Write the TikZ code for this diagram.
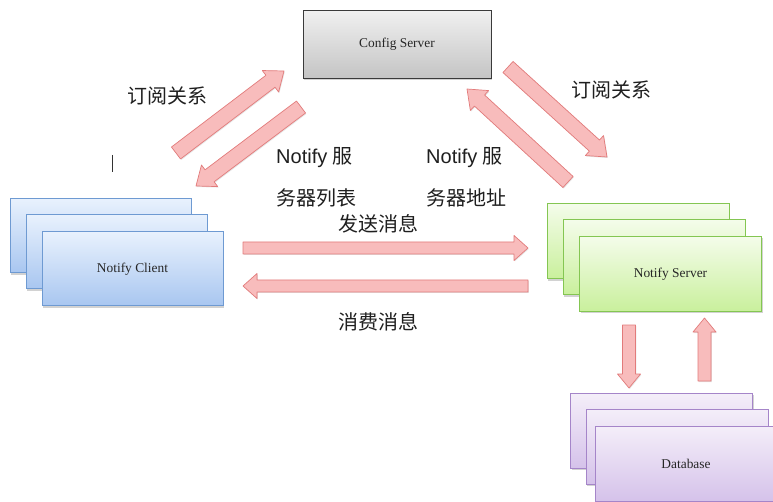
\documentclass[tikz,border=0pt]{standalone}
\usepackage{fontspec}
\setmainfont{Liberation Serif}
\newfontfamily\cjk{Noto Sans CJK SC}
\newfontfamily\hel{Liberation Sans}
\usetikzlibrary{calc,shadows}
\definecolor{arrowfill}{HTML}{F8BCBC}
\definecolor{arrowdraw}{HTML}{E27B7B}
\definecolor{cfgtop}{HTML}{F0F0F0}
\definecolor{cfgbot}{HTML}{C4C4C4}
\definecolor{cfgdraw}{HTML}{3A3A3A}
\definecolor{clitop}{HTML}{E8F1FD}
\definecolor{clibot}{HTML}{A8C6F0}
\definecolor{clidraw}{HTML}{6E9AD2}
\definecolor{srvtop}{HTML}{F4FCEA}
\definecolor{srvbot}{HTML}{C9F09C}
\definecolor{srvdraw}{HTML}{84C652}
\definecolor{dbtop}{HTML}{F4EEF9}
\definecolor{dbbot}{HTML}{D5C2EA}
\definecolor{dbdraw}{HTML}{A585C9}
\tikzset{
  boxbase/.style={rectangle, line width=1pt, inner sep=0pt,
    font=\fontsize{13.4}{15}\selectfont, text=black!85,
    drop shadow={shadow xshift=1.3pt, shadow yshift=-1.6pt, opacity=0.35}},
  cfgbox/.style={boxbase, draw=cfgdraw, top color=cfgtop, bottom color=cfgbot,
    minimum width=188pt, minimum height=68pt},
  clibox/.style={boxbase, draw=clidraw, top color=clitop, bottom color=clibot,
    minimum width=181pt, minimum height=74pt},
  srvbox/.style={boxbase, draw=srvdraw, top color=srvtop, bottom color=srvbot,
    minimum width=182pt, minimum height=75pt},
  dbbox/.style={boxbase, draw=dbdraw, top color=dbtop, bottom color=dbbot,
    minimum width=182pt, minimum height=75pt},
  arrowstyle/.style={fill=arrowfill, draw=arrowdraw, line width=0.7pt, line join=round,
    drop shadow={shadow xshift=0.8pt, shadow yshift=-1pt, opacity=0.2}},
  cnlabel/.style={inner sep=0pt, font=\cjk\fontsize{20}{23}\selectfont, text=black!88},
  mixlabel/.style={inner sep=0pt, font=\fontsize{20}{23}\selectfont, text=black!88},
}
\newcommand\blockarrow[5]{%
  \path ($(#2)!#5!(#1)$) coordinate (hb);
  \draw[arrowstyle] ($(#1)!#3!90:(#2)$) -- ($(hb)!#3!90:(#2)$) -- ($(hb)!#4!90:(#2)$)
    -- (#2) -- ($(hb)!#4!-90:(#2)$) -- ($(hb)!#3!-90:(#2)$) -- ($(#1)!#3!-90:(#2)$) -- cycle;
}
\begin{document}
\begin{tikzpicture}[x=1pt,y=-1pt]
\useasboundingbox (0,0) rectangle (773,502);
\fill[white] (0,0) rectangle (773,502);

% Config server
\node[cfgbox] (cfg) at (397,44.5) {Config Server};

% Notify client stack
\node[clibox] (cli1) at (100.5,236) {};
\node[clibox] (cli2) at (116.5,252) {};
\node[clibox] (cli3) at (132.5,269) {Notify Client};

% Notify server stack
\node[srvbox] (srv1) at (638,241.5) {};
\node[srvbox] (srv2) at (654,257.5) {};
\node[srvbox] (srv3) at (670.5,274) {Notify Server};

% Database stack
\node[dbbox] (db1) at (661.5,431) {};
\node[dbbox] (db2) at (677,446.5) {};
\node[dbbox] (db3) at (686,463.5) {Database};

% arrow end points
\coordinate (a1s) at (176,153);
\coordinate (a1e) at (284,71);
\coordinate (a2s) at (301,107);
\coordinate (a2e) at (196,186);
\coordinate (a3s) at (508,67);
\coordinate (a3e) at (607,157);
\coordinate (a4s) at (568,182);
\coordinate (a4e) at (467,89);
\coordinate (a5s) at (243,248);
\coordinate (a5e) at (528,248);
\coordinate (a6s) at (528,286);
\coordinate (a6e) at (243,286);
\coordinate (a7s) at (629,325);
\coordinate (a7e) at (629,388);
\coordinate (a8s) at (704.5,381);
\coordinate (a8e) at (704.5,318);

\blockarrow{a1s}{a1e}{7.5pt}{13.5pt}{17pt}
\blockarrow{a2s}{a2e}{7.5pt}{13.5pt}{17pt}
\blockarrow{a3s}{a3e}{7.5pt}{13.5pt}{17pt}
\blockarrow{a4s}{a4e}{7.5pt}{13.5pt}{17pt}
\blockarrow{a5s}{a5e}{6pt}{12.5pt}{14pt}
\blockarrow{a6s}{a6e}{6pt}{12.5pt}{14pt}
\blockarrow{a7s}{a7e}{6.5pt}{11.5pt}{14pt}
\blockarrow{a8s}{a8e}{6.5pt}{11.5pt}{14pt}

% labels
\node[cnlabel] (sub1) at (167,96) {订阅关系};
\node[cnlabel] (sub2) at (611,90) {订阅关系};
\node[mixlabel, anchor=west] (nl1) at (276,158) {{\hel Notify} {\cjk 服}};
\node[cnlabel, anchor=west] (nl2) at (276,198) {务器列表};
\node[mixlabel, anchor=west] (nr1) at (426,158) {{\hel Notify} {\cjk 服}};
\node[cnlabel, anchor=west] (nr2) at (426,198) {务器地址};
\node[cnlabel] (send) at (378,224) {发送消息};
\node[cnlabel] (cons) at (378,322) {消费消息};

% stray cursor mark
\coordinate (cur1) at (112,155);
\coordinate (cur2) at (112,172);
\draw[line width=0.8pt, black!80] (cur1) -- (cur2);
\end{tikzpicture}
\end{document}
